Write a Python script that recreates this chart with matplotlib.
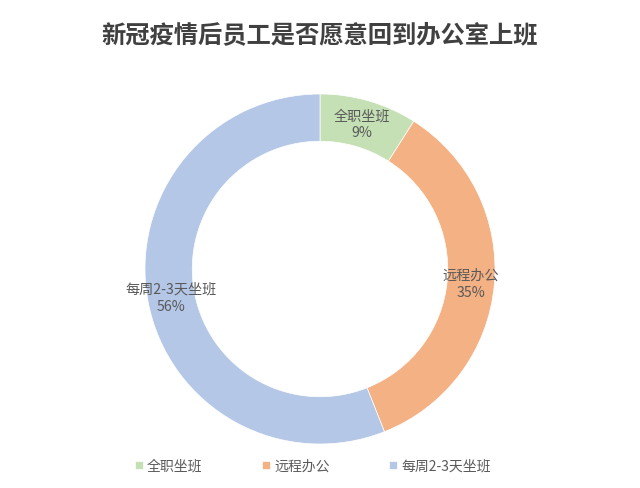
import matplotlib.pyplot as plt

plt.rcParams['font.family'] = ['Noto Sans CJK SC', 'DejaVu Sans']

# data
names = ['全职坐班', '远程办公', '每周2-3天坐班']
shares = [9, 35, 56]
colors = ['#c5e0b4', '#f4b183', '#b4c7e7']
title = '新冠疫情后员工是否愿意回到办公室上班'

fig = plt.figure(figsize=(6.4, 4.89), dpi=100)
fig.patch.set_facecolor('white')

# axes sized so the ring is ~350px across, centred at (320, 270)
W, H = 640, 489
R = 175
cx, cy = 320, 270
ax = fig.add_axes([(cx - R) / W, (H - cy - R) / H, 2 * R / W, 2 * R / H])

label_iter = iter(names)
wedges, _, autotexts = ax.pie(
    shares, colors=colors, startangle=90, counterclock=False,
    radius=1.0, wedgeprops=dict(width=0.27, edgecolor='white', linewidth=0.5),
    autopct=lambda p: f'{next(label_iter)}\n{p:.0f}%', pctdistance=0.865,
    textprops=dict(color='#595959', fontsize=10.2))
for t in autotexts:
    t.set_linespacing(1.3)
ax.set_xlim(-1, 1)
ax.set_ylim(-1, 1)
ax.set_aspect('equal')
ax.axis('off')

fig.text(0.5, 1 - 35 / H, title, ha='center', va='center',
         fontsize=17.5, fontweight='bold', color='#404040')

fig.legend(wedges, names, loc='center', bbox_to_anchor=(0.489, 1 - 467 / H),
           ncol=3, frameon=False, fontsize=10, handlelength=0.55, handleheight=0.55,
           handletextpad=0.3, columnspacing=4.3, labelcolor='#595959')

fig.savefig('out.png', dpi=100)
